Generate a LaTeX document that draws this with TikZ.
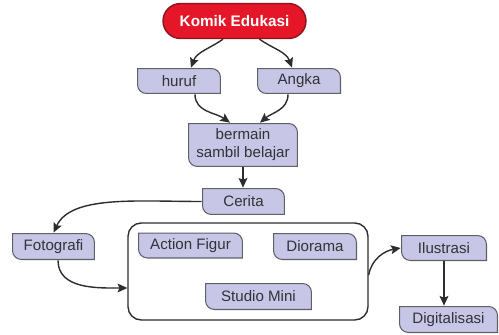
\documentclass[tikz,border=0pt]{standalone}
\usepackage{fontspec}
\setmainfont{Liberation Sans}
\usepackage{tikz}
\usetikzlibrary{calc}
\usetikzlibrary{arrows.meta}
\usetikzlibrary{shapes.misc}

\definecolor{tabfill}{RGB}{200,198,230}
\definecolor{tabline}{RGB}{95,95,105}
\definecolor{tabtext}{RGB}{50,50,55}
\definecolor{judulred}{RGB}{228,22,40}
\definecolor{juduledge}{RGB}{140,20,30}
\definecolor{panah}{RGB}{45,45,45}

\tikzset{
    tab/.style={fill=white, inner sep=0pt, minimum height=0.52cm, text=tabtext,
        font=\fontsize{8.6}{10.2}\selectfont, align=center,
        path picture={
            \draw[draw=tabline, fill=tabfill, line width=0.6pt]
                ([shift={(0.3pt,-0.3pt)}]path picture bounding box.north west)
                -- ([shift={(-5.3pt,-0.3pt)}]path picture bounding box.north east)
                arc[start angle=90, end angle=0, radius=5pt]
                -- ([shift={(-0.3pt,0.3pt)}]path picture bounding box.south east)
                -- ([shift={(5.3pt,0.3pt)}]path picture bounding box.south west)
                arc[start angle=270, end angle=180, radius=5pt]
                -- cycle;
        }},
    judul/.style={rounded rectangle, fill=judulred, draw=juduledge, line width=0.8pt,
        text=white, font=\fontsize{8.7}{10}\selectfont\bfseries,
        minimum width=2.86cm, minimum height=0.7cm, inner sep=0pt},
    wadah/.style={draw=panah, line width=0.8pt, rounded corners=7.5pt, fill=white},
    conn/.style={draw=panah, line width=0.8pt, -{Stealth[length=5.5pt, width=5pt, inset=1pt]}}
}

\begin{document}
\begin{tikzpicture}[x=0.02cm, y=-0.02cm]
    \useasboundingbox (0,0) rectangle (499,334);

    \node[judul] (komik) at (234.5,21) {Komik Edukasi};

    % huruf dan angka
    \node[tab, minimum width=1.68cm] (huruf) at (179,81) {huruf};
    \node[tab, minimum width=1.68cm] (angka) at (299,81) {Angka};

    \node[tab, minimum width=2.2cm, minimum height=0.88cm] (bermain) at (243,145) {bermain\\sambil belajar};
    \node[tab, minimum width=1.66cm, minimum height=0.54cm] (cerita) at (243.5,201.5) {Cerita};
    \node[tab, minimum width=1.66cm, minimum height=0.54cm] (fotografi) at (53.5,246.5) {Fotografi};

    % wadah
    \node[wadah, minimum width=4.8cm, minimum height=1.94cm] (wadah) at (248,271.5) {};
    \node[tab, minimum width=2.1cm] (action) at (190.5,245.5) {Action Figur};
    \node[tab, minimum width=1.68cm, minimum height=0.54cm] (diorama) at (315,246.5) {Diorama};
    \node[tab, minimum width=2.14cm, minimum height=0.54cm] (studio) at (258.5,296.5) {Studio Mini};

    \node[tab, minimum width=1.72cm] (ilustrasi) at (444,248) {Ilustrasi};
    \node[tab, minimum width=1.98cm, minimum height=0.54cm] (digital) at (448.5,319.5) {Digitalisasi};

    \draw[conn] ($(komik.south)+(-11.5,0)$) to[out=215, in=70] ($(huruf.north)+(12,0)$);
    \draw[conn] ($(komik.south)+(25,0)$) to[out=325, in=110] ($(angka.north)+(-7,0)$);
    \draw[conn] ($(huruf.south)+(16,0)$) to[out=270, in=145] ($(bermain.north)+(-13,0)$);
    \draw[conn] ($(angka.south)+(-11,0)$) to[out=270, in=40] ($(bermain.north)+(17,0)$);
    \draw[conn] (bermain.south) -- (bermain.south |- cerita.north);
    \draw[conn] (cerita.west) to[out=180, in=65, out looseness=1.1, in looseness=0.7] ($(fotografi.north)+(0,0)$);
    \draw[conn] ($(fotografi.south)+(4.5,0)$) to[out=270, in=180] ($(wadah.west)+(0,16.5)$);
    \draw[conn] ($(wadah.east)+(0,3.5)$) to[out=80, in=190] (ilustrasi.west);
    \draw[conn] (ilustrasi.south) -- (ilustrasi.south |- digital.north);
\end{tikzpicture}
\end{document}
